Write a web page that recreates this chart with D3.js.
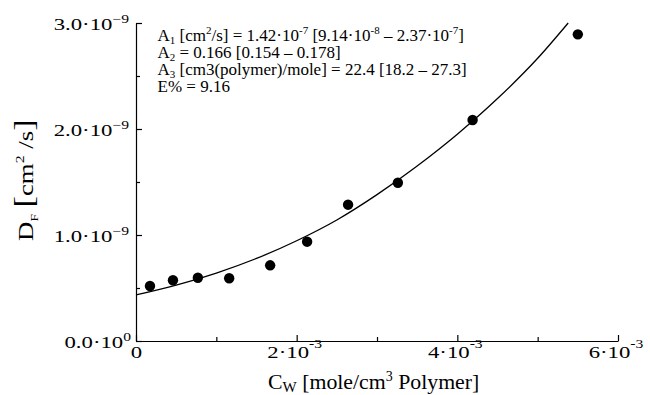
<!DOCTYPE html>
<html>
<head>
<meta charset="utf-8">
<script src="https://cdn.jsdelivr.net/npm/d3@7"></script>
<style>
  html, body { margin: 0; padding: 0; background: #fff; }
  text { font-family: "Liberation Serif", "Times New Roman", serif; fill: #000; }
</style>
</head>
<body>
<svg id="chart" width="650" height="395"></svg>
<script>
// ---- data ----
const cw = [0.174e-3, 0.46e-3, 0.77e-3, 1.16e-3, 1.67e-3, 2.13e-3, 2.64e-3, 3.26e-3, 4.19e-3, 5.50e-3];
const df = [0.519e-9, 0.573e-9, 0.597e-9, 0.592e-9, 0.714e-9, 0.937e-9, 1.286e-9, 1.493e-9, 2.085e-9, 2.893e-9];

// fitted curve
const fitCw = [0, 0.5e-3, 1.0e-3, 1.5e-3, 2.0e-3, 2.5e-3, 3.0e-3, 3.5e-3, 4.0e-3, 4.5e-3, 5.0e-3, 5.38e-3];
const fitDf = [0.434e-9, 0.527e-9, 0.641e-9, 0.779e-9, 0.946e-9, 1.142e-9, 1.381e-9, 1.651e-9, 1.951e-9, 2.287e-9, 2.667e-9, 3.0e-9];

const xMajor = [0, 2e-3, 4e-3, 6e-3];
const xMajorMant = ["0", "2\u00B710", "4\u00B710", "6\u00B710"];
const xMajorExp = ["", "-3", "-3", "-3"];
const xMinor = [1e-3, 3e-3, 5e-3];

const yMajor = [0, 1e-9, 2e-9, 3e-9];
const yMajorMant = ["0.0\u00B710", "1.0\u00B710", "2.0\u00B710", "3.0\u00B710"];
const yMajorExp = ["0", "\u22129", "\u22129", "\u22129"];
const yMinor = [0.5e-9, 1.5e-9, 2.5e-9];

const annotation = [
  [["A", "n"], ["1", "sub"], [" [cm", "n"], ["2", "sup"], ["/s] = 1.42\u00B710", "n"], ["-7", "sup"], [" [9.14\u00B710", "n"], ["-8", "sup"], [" \u2013 2.37\u00B710", "n"], ["-7", "sup"], ["]", "n"]],
  [["A", "n"], ["2", "sub"], [" = 0.166 [0.154 \u2013 0.178]", "n"]],
  [["A", "n"], ["3", "sub"], ["  [cm3(polymer)/mole] = 22.4 [18.2 \u2013 27.3]", "n"]],
  [["E% = 9.16", "n"]]
];

// ---- layout ----
const svg = d3.select("#chart");
const x = d3.scaleLinear().domain([0, 6e-3]).range([136, 618]);
const y = d3.scaleLinear().domain([0, 3e-9]).range([341, 23]);

// axes
svg.append("g").attr("transform", `translate(0,${y(0)})`)
  .call(d3.axisBottom(x).tickValues(xMajor).tickSizeInner(-6).tickSizeOuter(0).tickFormat(""));
const xAxisMinor = svg.append("g").attr("transform", `translate(0,${y(0)})`)
  .call(d3.axisBottom(x).tickValues(xMinor).tickSizeInner(-4).tickSizeOuter(0).tickFormat(""));
xAxisMinor.select(".domain").remove();
svg.append("g").attr("transform", `translate(${x(0)},0)`)
  .call(d3.axisLeft(y).tickValues(yMajor).tickSizeInner(-6).tickSizeOuter(0).tickFormat(""));
const yAxisMinor = svg.append("g").attr("transform", `translate(${x(0)},0)`)
  .call(d3.axisLeft(y).tickValues(yMinor).tickSizeInner(-4).tickSizeOuter(0).tickFormat(""));
yAxisMinor.select(".domain").remove();
svg.selectAll(".domain, .tick line").attr("stroke", "#000").attr("stroke-width", 1.2);

// x tick labels
xMajor.forEach((v, i) => {
  const t = svg.append("text")
    .attr("transform", `translate(${x(v) + (i === 0 ? 0.5 : -2)},358) scale(1.3,1)`)
    .attr("text-anchor", "middle")
    .style("font-size", "17.5px");
  t.append("tspan").text(xMajorMant[i]);
  if (xMajorExp[i]) t.append("tspan").attr("dy", -10).style("font-size", "12px").text(xMajorExp[i]);
});

// y tick labels
yMajor.forEach((v, i) => {
  const t = svg.append("text")
    .attr("transform", `translate(${i === 0 ? 131 : 129},${y(v) + 7}) scale(1.3,1)`)
    .attr("text-anchor", "end")
    .style("font-size", "17.5px");
  t.append("tspan").text(yMajorMant[i]);
  t.append("tspan").attr("dy", -7.5).style("font-size", "12px").text(yMajorExp[i]);
});

// axis titles
const xt = svg.append("text").attr("transform", "translate(268,388.5)").style("font-size", "21.8px");
xt.append("tspan").text("C");
xt.append("tspan").attr("dy", 3).style("font-size", "15px").text("W");
xt.append("tspan").attr("dy", -3).text(" [mole/cm");
xt.append("tspan").attr("dy", -8).style("font-size", "14px").text("3");
xt.append("tspan").attr("dy", 8).text(" Polymer]");

const yt = svg.append("text").attr("transform", "translate(33,241) rotate(-90) scale(1.22,1)").style("font-size", "22px");
yt.append("tspan").text("D");
yt.append("tspan").attr("dy", 5).style("font-size", "11px").text("F");
yt.append("tspan").attr("dy", -5).text(" ");
yt.append("tspan").style("font-size", "28px").text("[");
yt.append("tspan").text("cm");
yt.append("tspan").attr("dy", -9).style("font-size", "13px").text("2");
yt.append("tspan").attr("dy", 9).text(" /s");
yt.append("tspan").style("font-size", "28px").text("]");

// fitted curve
const line = d3.line().x((d, i) => x(fitCw[i])).y((d, i) => y(fitDf[i])).curve(d3.curveMonotoneX);
svg.append("path").datum(fitCw).attr("d", line)
  .attr("fill", "none").attr("stroke", "#000").attr("stroke-width", 1.3);

// points
svg.append("g").selectAll("circle").data(cw).join("circle")
  .attr("cx", d => x(d)).attr("cy", (d, i) => y(df[i])).attr("r", 5.2).attr("fill", "#000");

// annotation
const baselines = [41, 58, 75, 92];
annotation.forEach((parts, li) => {
  const t = svg.append("text").attr("x", 157.5).attr("y", baselines[li]).style("font-size", "17px");
  let shift = 0;
  parts.forEach(([s, kind]) => {
    const target = kind === "sub" ? 3 : kind === "sup" ? -7 : 0;
    const ts = t.append("tspan").attr("dy", target - shift).text(s);
    if (kind !== "n") ts.style("font-size", "11px");
    shift = target;
  });
});
</script>
</body>
</html>
